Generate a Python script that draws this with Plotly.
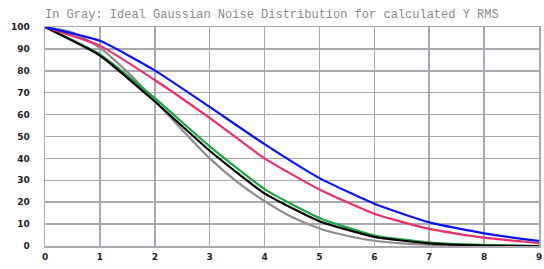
import plotly.graph_objects as go

x_int = [0, 1, 2, 3, 4, 5, 6, 7, 8, 9]
blue_vals = [100, 93.7, 80.2, 63.5, 46.5, 31, 19.3, 10.8, 5.8, 2.3]
red_vals = [100, 91.5, 75.8, 58.5, 40, 25.8, 14.7, 7.8, 3.8, 1.3]
green_vals = [100, 87.5, 67.5, 45.5, 26, 12.8, 4.8, 1.6, 0.5, 0]
black_vals = [100, 87, 66, 43.5, 24, 11.3, 4.2, 1.2, 0.2, 0]

x_half = [0, 0.5, 1, 1.5, 2, 2.5, 3, 3.5, 4, 4.5, 5, 5.5, 6, 6.5, 7, 7.5, 8, 8.5, 9]
gray_vals = [100, 97.5, 90.5, 79.5, 66.5, 53, 40, 29.3, 20.5, 13.2, 8, 4.7, 2.4, 1.2, 0.6, 0.3, 0.1, 0, 0]

title_text = "In Gray: Ideal Gaussian Noise Distribution for calculated Y RMS"
x_ticks = [0, 1, 2, 3, 4, 5, 6, 7, 8, 9]
y_ticks = [0, 10, 20, 30, 40, 50, 60, 70, 80, 90, 100]

fig = go.Figure()
fig.add_trace(go.Scatter(x=x_half, y=gray_vals, mode="lines",
                         line=dict(color="#8c8c8c", width=2.2, shape="spline", smoothing=0.6)))
fig.add_trace(go.Scatter(x=x_int, y=green_vals, mode="lines",
                         line=dict(color="#1aa83c", width=2.2, shape="spline", smoothing=0.5)))
fig.add_trace(go.Scatter(x=x_int, y=black_vals, mode="lines",
                         line=dict(color="#000000", width=2.2, shape="spline", smoothing=0.5)))
fig.add_trace(go.Scatter(x=x_int, y=red_vals, mode="lines",
                         line=dict(color="#e8306a", width=2.2, shape="spline", smoothing=0.5)))
fig.add_trace(go.Scatter(x=x_int, y=blue_vals, mode="lines",
                         line=dict(color="#0a14f0", width=2.2, shape="spline", smoothing=0.5)))

W, H = 544, 269
grid_col = "#a9a9b1"
tick_font = dict(family="DejaVu Sans", size=9, color="#1e1e2a", weight="bold")
fig.update_layout(
    width=W, height=H,
    margin=dict(l=45, r=5, t=27, b=23),
    paper_bgcolor="white", plot_bgcolor="white",
    showlegend=False,
    hovermode=False,
    title=dict(text=title_text, x=45/W, xref="container", xanchor="left",
               y=1 - 14/H, yref="container", yanchor="middle",
               font=dict(family="Liberation Mono", size=12, color="#8a8a8a")),
    xaxis=dict(range=[0, 9], tickvals=x_ticks,
               showgrid=True, gridcolor=grid_col, gridwidth=1.5,
               showline=True, linecolor=grid_col, linewidth=1.5, mirror=True, zeroline=False,
               ticks="outside", ticklen=2, tickcolor="rgba(0,0,0,0)",
               ticklabeloverflow="allow", automargin=False, tickfont=tick_font),
    yaxis=dict(range=[0, 100], tickvals=y_ticks, showgrid=True, gridcolor=grid_col, gridwidth=1.5,
               showline=True, linecolor=grid_col, linewidth=1.5, mirror=True, zeroline=False,
               ticks="outside", ticklen=12, tickcolor="rgba(0,0,0,0)",
               ticklabeloverflow="allow", automargin=False,
               tickfont=tick_font),
)

fig.write_html("out.html",
               config={"displayModeBar": False, "staticPlot": True},
               post_script="document.body.style.margin='0';document.body.style.overflow='hidden';")
